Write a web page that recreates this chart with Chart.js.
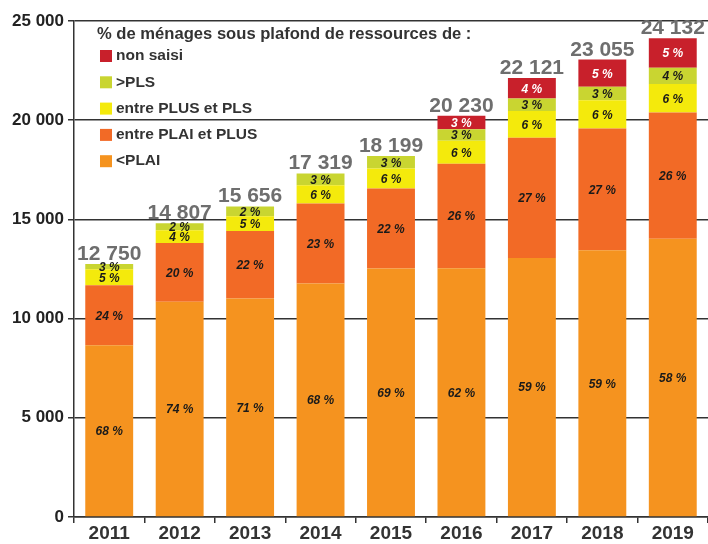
<!DOCTYPE html>
<html lang="fr">
<head>
<meta charset="utf-8">
<title>Ménages sous plafond de ressources</title>
<script src="https://cdn.jsdelivr.net/npm/chart.js@4/dist/chart.umd.min.js"></script>
<style>
  html, body { margin: 0; padding: 0; background: #fff; }
  #wrap { width: 708px; height: 544px; position: relative; }
</style>
</head>
<body>
<div id="wrap"><canvas id="chart"></canvas></div>
<script>
// ===== Data
const years = ['2011', '2012', '2013', '2014', '2015', '2016', '2017', '2018', '2019'];
const totals = [12750, 14807, 15656, 17319, 18199, 20230, 22121, 23055, 24132];

// segment heights, bottom to top
const plai      = [8655, 10850, 11010, 11765, 12520, 12540, 13050, 13440, 14030];
const plaiPlus  = [3027, 2960, 3410, 4035, 4036, 5270, 6070, 6140, 6360];
const plusPls   = [808, 645, 740, 918, 1008, 1150, 1340, 1430, 1430];
const overPls   = [260, 352, 496, 601, 635, 590, 630, 670, 820];
const nonSaisi  = [0, 0, 0, 0, 0, 680, 1031, 1375, 1492];

// percentages printed inside the segments
const pctPlai     = [68, 74, 71, 68, 69, 62, 59, 59, 58];
const pctPlaiPlus = [24, 20, 22, 23, 22, 26, 27, 27, 26];
const pctPlusPls  = [5, 4, 5, 6, 6, 6, 6, 6, 6];
const pctOverPls  = [3, 2, 2, 3, 3, 3, 3, 3, 4];
const pctNonSaisi = [null, null, null, null, null, 3, 4, 5, 5];

const yTicks = [0, 5000, 10000, 15000, 20000, 25000];
const legendTitle = '% de ménages sous plafond de ressources de :';

// ===== Utils
function fmt(n) {
  return String(n).replace(/\B(?=(\d{3})+(?!\d))/g, ' ');
}

const series = [
  { label: '<PLAI',              data: plai,     pct: pctPlai,     color: '#F5931F', txt: '#1a1a1a' },
  { label: 'entre PLAI et PLUS', data: plaiPlus, pct: pctPlaiPlus, color: '#F26A26', txt: '#1a1a1a' },
  { label: 'entre PLUS et PLS',  data: plusPls,  pct: pctPlusPls,  color: '#F4EA0C', txt: '#1a1a1a' },
  { label: '>PLS',               data: overPls,  pct: pctOverPls,  color: '#C9D531', txt: '#1a1a1a' },
  { label: 'non saisi',          data: nonSaisi, pct: pctNonSaisi, color: '#C8202B', txt: '#ffffff' }
];

// ===== Plugins
const segmentLabels = {
  id: 'segmentLabels',
  afterDatasetsDraw(chart) {
    const ctx = chart.ctx;
    ctx.save();
    ctx.font = 'italic bold 12px "Liberation Sans Narrow", "Liberation Sans", Arial, sans-serif';
    ctx.textAlign = 'center';
    ctx.textBaseline = 'middle';
    chart.data.datasets.forEach((ds, di) => {
      const meta = chart.getDatasetMeta(di);
      meta.data.forEach((el, i) => {
        const p = series[di].pct[i];
        if (p == null) return;
        ctx.fillStyle = series[di].txt;
        ctx.fillText(p + ' %', el.x, (el.y + el.base) / 2 + 1);
      });
    });
    // totals above each stack
    const y = chart.scales.y;
    const meta0 = chart.getDatasetMeta(0);
    ctx.font = 'bold 21px "Liberation Sans Narrow", "Liberation Sans", Arial, sans-serif';
    ctx.fillStyle = '#6e6e6e';
    ctx.textBaseline = 'alphabetic';
    totals.forEach((t, i) => {
      ctx.fillText(fmt(t), meta0.data[i].x, y.getPixelForValue(t) - 4);
    });
    ctx.restore();
  }
};

const insideLegend = {
  id: 'insideLegend',
  afterDraw(chart) {
    const ctx = chart.ctx;
    const a = chart.chartArea;
    const x0 = a.left + 23;
    ctx.save();
    ctx.textBaseline = 'middle';
    ctx.textAlign = 'left';
    ctx.fillStyle = '#333';
    ctx.font = 'bold 16.6px "Liberation Sans", Arial, sans-serif';
    ctx.fillText(legendTitle, x0, a.top + 13);
    ctx.font = 'bold 15.5px "Liberation Sans", Arial, sans-serif';
    const items = series.slice().reverse();
    items.forEach((s, k) => {
      const cy = a.top + 35 + k * 26.3;
      ctx.fillStyle = s.color;
      ctx.fillRect(x0 + 3, cy - 6, 12, 12);
      ctx.fillStyle = '#333';
      ctx.fillText(s.label, x0 + 19, cy);
    });
    ctx.restore();
  }
};

// ===== Chart
const ctx = document.getElementById('chart').getContext('2d');
new Chart(ctx, {
  type: 'bar',
  data: {
    labels: years,
    datasets: series.map(s => ({
      label: s.label,
      data: s.data,
      backgroundColor: s.color,
      borderWidth: 0,
      barPercentage: 0.68,
      categoryPercentage: 1
    }))
  },
  options: {
    responsive: true,
    maintainAspectRatio: false,
    animation: false,
    layout: { padding: { top: 21, left: 8, right: 0, bottom: 0 } },
    plugins: {
      legend: { display: false },
      tooltip: { enabled: false }
    },
    scales: {
      x: {
        stacked: true,
        grid: { drawOnChartArea: false, drawTicks: true, tickLength: 6, color: '#333', lineWidth: 1.5, offset: true },
        border: { color: '#333', width: 1.5 },
        ticks: {
          color: '#333',
          padding: 1,
          font: { family: '"Liberation Sans Narrow", "Liberation Sans", Arial, sans-serif', size: 19, weight: 'bold', lineHeight: 1 }
        }
      },
      y: {
        stacked: true,
        min: 0,
        max: 25000,
        afterBuildTicks: scale => { scale.ticks = yTicks.map(v => ({ value: v })); },
        grid: { color: '#333', lineWidth: 1.5, tickLength: 6 },
        border: { color: '#333', width: 1.5 },
        ticks: {
          color: '#222',
          padding: 4,
          font: { family: '"Liberation Sans", Arial, sans-serif', size: 17, weight: 'bold' },
          callback: v => fmt(v)
        }
      }
    }
  },
  plugins: [segmentLabels, insideLegend]
});
</script>
</body>
</html>
